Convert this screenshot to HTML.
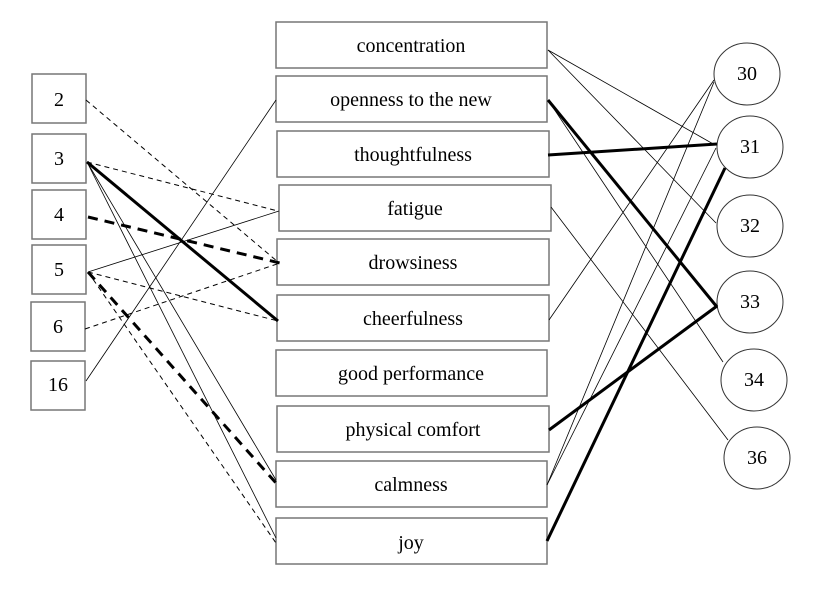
<!DOCTYPE html>
<html><head><style>body{margin:0;background:#fff}svg{display:block}</style></head><body>
<svg width="833" height="608" xmlns="http://www.w3.org/2000/svg">
<g fill="#fff" stroke="#777" stroke-width="1.5">
<rect x="32" y="74" width="54" height="49"/><rect x="32" y="134" width="54" height="49"/><rect x="32" y="190" width="54" height="49"/><rect x="32" y="245" width="54" height="49"/><rect x="31" y="302" width="54" height="49"/><rect x="31" y="361" width="54" height="49"/>
<rect x="276" y="22" width="271" height="46"/><rect x="276" y="76" width="271" height="46"/><rect x="277" y="131" width="272" height="46"/><rect x="279" y="185" width="272" height="46"/><rect x="277" y="239" width="272" height="46"/><rect x="277" y="295" width="272" height="46"/><rect x="276" y="350" width="271" height="46"/><rect x="277" y="406" width="272" height="46"/><rect x="276" y="461" width="271" height="46"/><rect x="276" y="518" width="271" height="46"/>
</g>
<g fill="#fff" stroke="#333" stroke-width="1">
<ellipse cx="747" cy="74" rx="33" ry="31"/><ellipse cx="750" cy="147" rx="33" ry="31"/><ellipse cx="750" cy="226" rx="33" ry="31"/><ellipse cx="750" cy="302" rx="33" ry="31"/><ellipse cx="754" cy="380" rx="33" ry="31"/><ellipse cx="757" cy="458" rx="33" ry="31"/>
</g>
<g stroke="#000" fill="none">
<g stroke-width="1" stroke-dasharray="5,4">
<line x1="86" y1="100" x2="278" y2="262"/><line x1="87" y1="162" x2="278" y2="211"/><line x1="85" y1="329" x2="280" y2="263"/><line x1="88" y1="272" x2="278" y2="321"/><line x1="88" y1="272" x2="276" y2="543"/>
</g>
<g stroke-width="3" stroke-dasharray="10,7">
<line x1="88" y1="217" x2="280" y2="263"/><line x1="88" y1="272" x2="276" y2="483"/>
</g>
<g stroke-width="0.8">
<line x1="87" y1="162" x2="276" y2="480"/><line x1="87" y1="162" x2="276" y2="538"/><line x1="88" y1="272" x2="279" y2="211"/><line x1="86" y1="381" x2="276" y2="100"/>
<line x1="548" y1="50" x2="715" y2="145"/><line x1="548" y1="50" x2="716" y2="223"/><line x1="548" y1="100" x2="723" y2="362"/><line x1="551" y1="207" x2="728" y2="440"/><line x1="549" y1="320" x2="714" y2="80"/><line x1="547" y1="485" x2="714" y2="82"/><line x1="547" y1="485" x2="716" y2="148"/>
</g>
<g stroke-width="3">
<line x1="87" y1="162" x2="278" y2="321"/>
<line x1="548" y1="100" x2="717" y2="307"/><line x1="548" y1="155" x2="717" y2="144"/><line x1="549" y1="430" x2="717" y2="306"/><line x1="547" y1="541" x2="725" y2="168"/>
</g>
</g>
<g font-family="'Liberation Serif', 'Times New Roman', serif" font-size="20" text-anchor="middle" fill="#000">
<text x="59" y="106">2</text><text x="59" y="165">3</text><text x="59" y="221">4</text><text x="59" y="276">5</text><text x="58" y="333">6</text><text x="58" y="391">16</text>
<text x="411" y="52">concentration</text><text x="411" y="106">openness to the new</text><text x="413" y="161">thoughtfulness</text><text x="415" y="215">fatigue</text><text x="413" y="269">drowsiness</text><text x="413" y="325">cheerfulness</text><text x="411" y="380">good performance</text><text x="413" y="436">physical comfort</text><text x="411" y="491">calmness</text><text x="411" y="549">joy</text>
<text x="747" y="80">30</text><text x="750" y="153">31</text><text x="750" y="232">32</text><text x="750" y="308">33</text><text x="754" y="386">34</text><text x="757" y="464">36</text>
</g>
</svg>
</body></html>
